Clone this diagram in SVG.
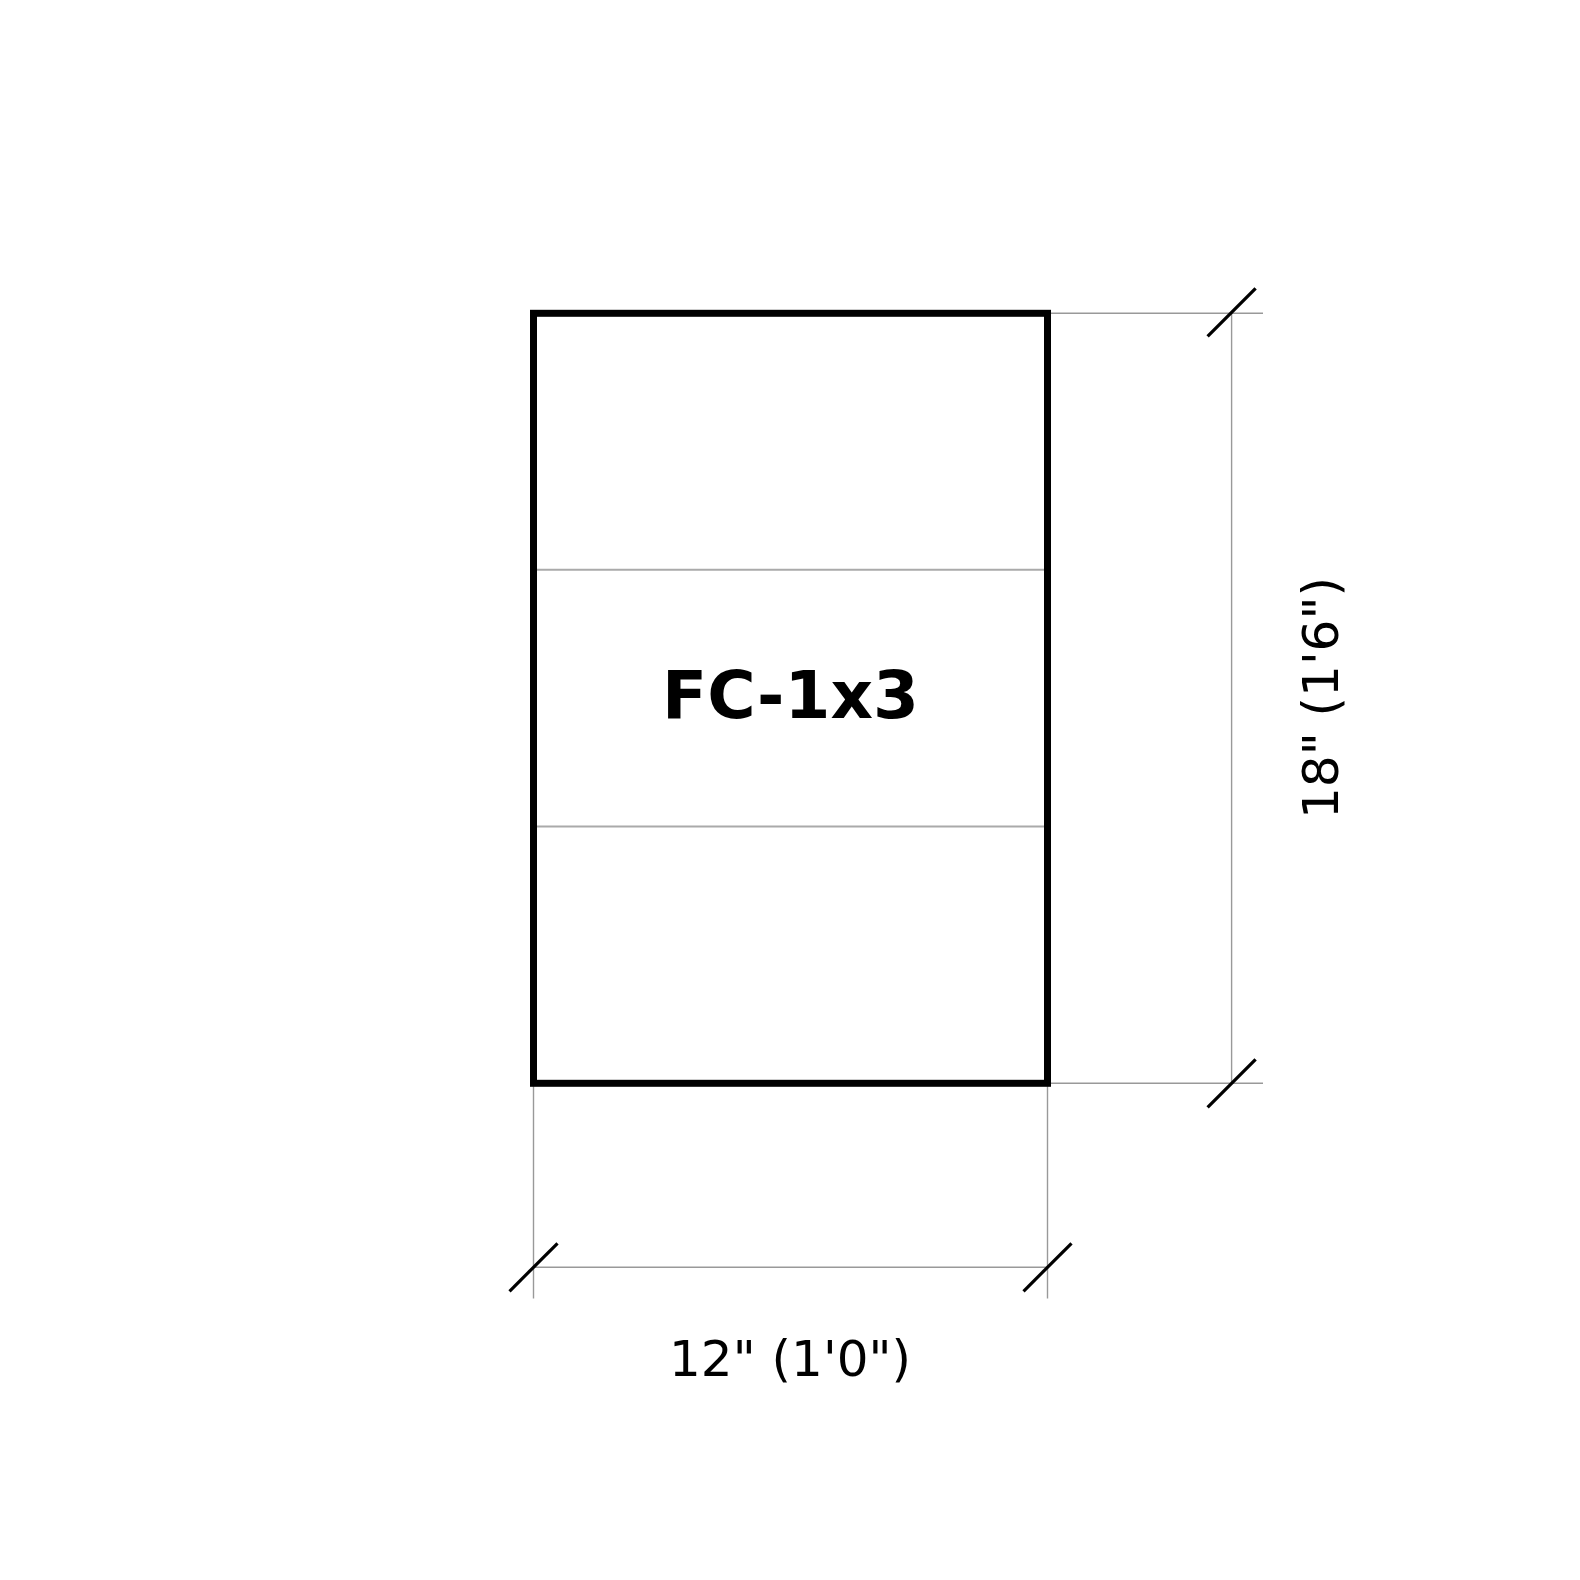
<svg xmlns="http://www.w3.org/2000/svg" width="1580" height="1580" viewBox="0 0 1580 1580">
<style>
.dim{stroke:#999;stroke-width:1.4;fill:none}
.div{stroke:#aaa;stroke-width:2;fill:none}
.tick{stroke:#000;stroke-width:3.2;fill:none}
.lbl{font-family:"DejaVu Sans",sans-serif;font-size:50px;fill:#000;text-anchor:middle}
.name{font-family:"DejaVu Sans",sans-serif;font-weight:bold;font-size:66px;fill:#000;text-anchor:middle}
</style>
<rect width="1580" height="1580" fill="#fff"/>
<g id="connectors">
<line class="dim" x1="1047.5" y1="313.3" x2="1263" y2="313.3"/>
<line class="dim" x1="1047.5" y1="1083.3" x2="1263" y2="1083.3"/>
<line class="dim" x1="1231.6" y1="313.3" x2="1231.6" y2="1083.3"/>
<line class="tick" x1="1207.6" y1="336.3" x2="1255.6" y2="288.3"/>
<line class="tick" x1="1207.6" y1="1107.3" x2="1255.6" y2="1059.3"/>
<line class="dim" x1="533.5" y1="1083.3" x2="533.5" y2="1298.5"/>
<line class="dim" x1="1047.5" y1="1083.3" x2="1047.5" y2="1298.5"/>
<line class="dim" x1="533.5" y1="1267.3" x2="1047.5" y2="1267.3"/>
<line class="tick" x1="509.5" y1="1291.3" x2="557.5" y2="1243.3"/>
<line class="tick" x1="1023.5" y1="1291.3" x2="1071.5" y2="1243.3"/>
</g>
<g id="node-fc">
<line class="div" x1="533.5" y1="569.8" x2="1047.5" y2="569.8"/>
<line class="div" x1="533.5" y1="826.5" x2="1047.5" y2="826.5"/>
<rect x="533.5" y="313.3" width="514" height="770" fill="none" stroke="#000" stroke-width="7"/>
<text class="name" x="790.5" y="718">FC-1x3</text>
</g>
<g id="dim-width">
<text class="lbl" x="790" y="1375.5">12" (1'0")</text>
</g>
<g id="dim-height">
<text class="lbl" transform="translate(1338,698) rotate(-90)" x="0" y="0">18" (1'6")</text>
</g>
</svg>
